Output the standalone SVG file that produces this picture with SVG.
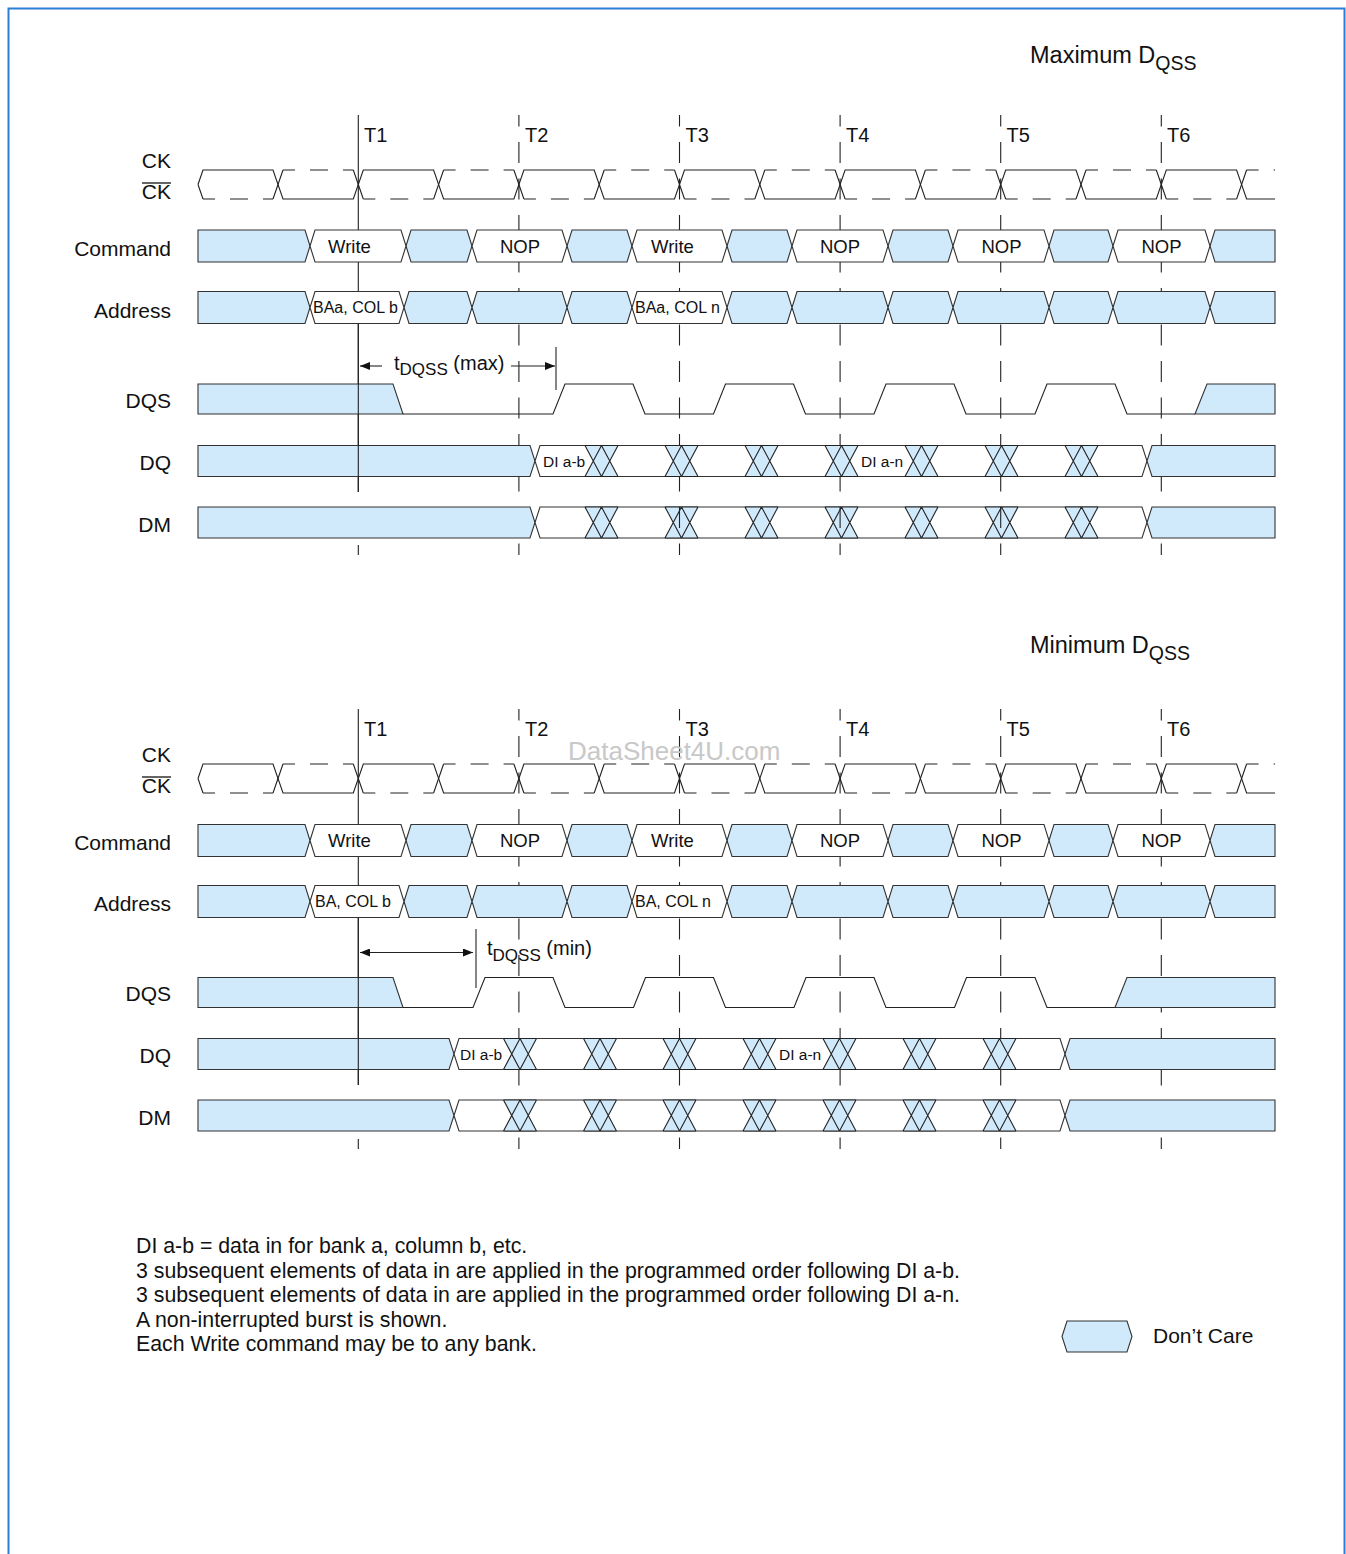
<svg xmlns="http://www.w3.org/2000/svg" width="1346" height="1554" viewBox="0 0 1346 1554">
<style>
.bl{fill:#d0e9fb;stroke:#333;stroke-width:1.1}
.wh{fill:#fff;stroke:#333;stroke-width:1.1}
.ln{fill:none;stroke:#222;stroke-width:1.1}
.dsh{fill:none;stroke:#222;stroke-width:1.1;stroke-dasharray:18 15;stroke-dashoffset:6}
.grid{fill:none;stroke:#222;stroke-width:1.1;stroke-dasharray:21 15.5;stroke-dashoffset:9.5}
.t{font-family:"Liberation Sans",Arial,sans-serif;fill:#111}
.lbl{font-size:21px;text-anchor:end}
.tl{font-size:20px}
.cmd{font-size:18.5px;text-anchor:middle}
.adr{font-size:16px}
.dat{font-size:15.5px}
.title{font-size:23.5px}
.note{font-size:21.3px}
</style>
<defs>
<g id="xx">
<path d="M-16.5 0 H16.5 L8.25 15.5 L16.5 31 H-16.5 L-8.25 15.5 Z" fill="#d0e9fb"/>
<path class="ln" d="M-16.5 0 L0 31 M-16.5 31 L0 0 M0 0 L16.5 31 M0 31 L16.5 0 M-16.5 0 H16.5 M-16.5 31 H16.5"/>
</g>
<marker id="ah" viewBox="0 0 10 8" refX="10" refY="4" markerWidth="10" markerHeight="8" orient="auto-start-reverse" markerUnits="userSpaceOnUse">
<path d="M0 0 L10 4 L0 8 Z" fill="#111"/>
</marker>
</defs>
<rect x="8.5" y="8.5" width="1336" height="1560" fill="#fff" stroke="#2b7fd3" stroke-width="2"/>

<!-- ================= TOP: Maximum DQSS ================= -->
<g id="title-max"><text class="t title" x="1030" y="63">Maximum D<tspan dy="7" font-size="19.5">QSS</tspan></text></g>

<g id="clock-edges-max">
<path class="ln" d="M358.3 115 V492 M358.3 545 V555"/>
<path class="grid" d="M518.9 115 V555 M679.5 115 V555 M840.1 115 V555 M1000.7 115 V555 M1161.3 115 V555"/>
<text class="t tl" x="364" y="142">T1</text>
<text class="t tl" x="525" y="142">T2</text>
<text class="t tl" x="685.5" y="142">T3</text>
<text class="t tl" x="846" y="142">T4</text>
<text class="t tl" x="1006.5" y="142">T5</text>
<text class="t tl" x="1167" y="142">T6</text>
</g>

<g id="labels-max">
<text class="t lbl" x="171" y="167.5">CK</text>
<text class="t lbl" x="171" y="198.5">CK</text>
<line x1="142" y1="183" x2="171" y2="183" stroke="#111" stroke-width="1.3"/>
<text class="t lbl" x="171" y="255.5">Command</text>
<text class="t lbl" x="171" y="317.5">Address</text>
<text class="t lbl" x="171" y="407.5">DQS</text>
<text class="t lbl" x="171" y="469.5">DQ</text>
<text class="t lbl" x="171" y="531.5">DM</text>
</g>

<g id="ck-max" transform="translate(0,170)">
<path class="ln" d="M198 14.5 L203 0 H273 L283 29 H353.3 L363.3 0 H433.6 L443.6 29 H513.9 L523.9 0 H594.2 L604.2 29 H674.5 L684.5 0 H754.8 L764.8 29 H835.1 L845.1 0 H915.4 L925.4 29 H995.7 L1005.7 0 H1076 L1086 29 H1156.3 L1166.3 0 H1236.6 L1246.6 29 H1275"/>
<path class="ln" d="M198 14.5 L203 29 M273 29 L283 0 M353.3 0 L363.3 29 M433.6 29 L443.6 0 M513.9 0 L523.9 29 M594.2 29 L604.2 0 M674.5 0 L684.5 29 M754.8 29 L764.8 0 M835.1 0 L845.1 29 M915.4 29 L925.4 0 M995.7 0 L1005.7 29 M1076 29 L1086 0 M1156.3 0 L1166.3 29 M1236.6 29 L1246.6 0"/>
<path class="dsh" d="M203 29 H273 M283 0 H353.3 M363.3 29 H433.6 M443.6 0 H513.9 M523.9 29 H594.2 M604.2 0 H674.5 M684.5 29 H754.8 M764.8 0 H835.1 M845.1 29 H915.4 M925.4 0 H995.7 M1005.7 29 H1076 M1086 0 H1156.3 M1166.3 29 H1236.6 M1246.6 0 H1275"/>
</g>

<g id="command-max" transform="translate(0,230)">
<path class="bl" d="M198 0 H305 L310 16 L305 32 H198 Z M406 16 L411 0 H467 L472 16 L467 32 H411 Z M567 16 L572 0 H627 L632 16 L627 32 H572 Z M727 16 L732 0 H787 L792 16 L787 32 H732 Z M888 16 L893 0 H948 L953 16 L948 32 H893 Z M1049 16 L1054 0 H1108 L1113 16 L1108 32 H1054 Z M1210 16 L1215 0 H1275 V32 H1215 Z"/>
<path class="wh" d="M310 16 L315 0 H401 L406 16 L401 32 H315 Z M472 16 L477 0 H562 L567 16 L562 32 H477 Z M632 16 L637 0 H722 L727 16 L722 32 H637 Z M792 16 L797 0 H883 L888 16 L883 32 H797 Z M953 16 L958 0 H1044 L1049 16 L1044 32 H958 Z M1113 16 L1118 0 H1205 L1210 16 L1205 32 H1118 Z"/>
<text class="t cmd" x="349.5" y="22.5">Write</text>
<text class="t cmd" x="520" y="22.5">NOP</text>
<text class="t cmd" x="672.5" y="22.5">Write</text>
<text class="t cmd" x="840" y="22.5">NOP</text>
<text class="t cmd" x="1001.5" y="22.5">NOP</text>
<text class="t cmd" x="1161.5" y="22.5">NOP</text>
</g>

<g id="address-max" transform="translate(0,291.5)">
<path class="bl" d="M198 0 H305 L310 16 L305 32 H198 Z M404 16 L409 0 H467 L472 16 L467 32 H409 Z M472 16 L477 0 H562 L567 16 L562 32 H477 Z M567 16 L572 0 H627 L632 16 L627 32 H572 Z M727 16 L732 0 H787 L792 16 L787 32 H732 Z M792 16 L797 0 H883 L888 16 L883 32 H797 Z M888 16 L893 0 H948 L953 16 L948 32 H893 Z M953 16 L958 0 H1044 L1049 16 L1044 32 H958 Z M1049 16 L1054 0 H1108 L1113 16 L1108 32 H1054 Z M1113 16 L1118 0 H1205 L1210 16 L1205 32 H1118 Z M1210 16 L1215 0 H1275 V32 H1215 Z"/>
<path class="wh" d="M310 16 L315 0 H399 L404 16 L399 32 H315 Z M632 16 L637 0 H722 L727 16 L722 32 H637 Z"/>
<text class="t adr" x="313" y="21.8">BAa, COL b</text>
<text class="t adr" x="635" y="21.8">BAa, COL n</text>
</g>

<g id="dqs-max" transform="translate(0,384)">
<path class="bl" d="M198 0 H393 L403 30 H198 Z"/>
<path class="ln" d="M403 30 H553 L565 0 H633 L645 30 H713.5 L725.5 0 H793.5 L805.5 30 H874 L886 0 H954 L966 30 H1035 L1047 0 H1115 L1127 30 H1195"/>
<path class="bl" d="M1195 30 L1207 0 H1275 V30 Z"/>
</g>

<g id="dq-max" transform="translate(0,445.5)">
<path class="bl" d="M198 0 H530 L535 15.5 L530 31 H198 Z"/>
<path class="wh" d="M535 15.5 L540 0 H1142 L1147 15.5 L1142 31 H540 Z"/>
<path class="bl" d="M1147 15.5 L1152 0 H1275 V31 H1152 Z"/>
<use href="#xx" x="601.5"/><use href="#xx" x="681.5"/><use href="#xx" x="761.5"/><use href="#xx" x="841.5"/><use href="#xx" x="921.5"/><use href="#xx" x="1001.5"/><use href="#xx" x="1081.5"/>
<text class="t dat" x="543" y="21.3">DI a-b</text>
<text class="t dat" x="861" y="21.3">DI a-n</text>
</g>

<g id="dm-max" transform="translate(0,507)">
<path class="bl" d="M198 0 H530 L535 15.5 L530 31 H198 Z"/>
<path class="wh" d="M535 15.5 L540 0 H1142 L1147 15.5 L1142 31 H540 Z"/>
<path class="bl" d="M1147 15.5 L1152 0 H1275 V31 H1152 Z"/>
<use href="#xx" x="601.5"/><use href="#xx" x="681.5"/><use href="#xx" x="761.5"/><use href="#xx" x="841.5"/><use href="#xx" x="921.5"/><use href="#xx" x="1001.5"/><use href="#xx" x="1081.5"/>
<path class="ln" d="M679.5 0 V21 M840.1 0 V21 M1000.7 0 V21"/>
</g>

<g id="connectors-max">
<path class="ln" d="M358.3 323.5 V492"/>
<path class="ln" d="M382 366 H360" marker-end="url(#ah)"/>
<path class="ln" d="M511 366 H555" marker-end="url(#ah)"/>
<path class="ln" d="M556 347 V390"/>
<text class="t tl" x="394" y="370">t<tspan dy="4.5" font-size="17">DQSS</tspan><tspan dy="-4.5"> (max)</tspan></text>
</g>

<!-- ================= BOTTOM: Minimum DQSS ================= -->
<g id="title-min"><text class="t title" x="1030" y="653">Minimum D<tspan dy="7" font-size="19.5">QSS</tspan></text></g>

<g id="clock-edges-min">
<path class="ln" d="M358.3 709 V1085 M358.3 1139 V1149"/>
<path class="grid" d="M518.9 709 V1149 M679.5 709 V1149 M840.1 709 V1149 M1000.7 709 V1149 M1161.3 709 V1149"/>
<text class="t tl" x="364" y="736">T1</text>
<text class="t tl" x="525" y="736">T2</text>
<text class="t tl" x="685.5" y="736">T3</text>
<text class="t tl" x="846" y="736">T4</text>
<text class="t tl" x="1006.5" y="736">T5</text>
<text class="t tl" x="1167" y="736">T6</text>
</g>

<text x="568" y="760" font-family="'Liberation Sans',Arial,sans-serif" font-size="26" fill="#c8c8c8">DataSheet4U.com</text>

<g id="labels-min">
<text class="t lbl" x="171" y="761.5">CK</text>
<text class="t lbl" x="171" y="792.5">CK</text>
<line x1="142" y1="777" x2="171" y2="777" stroke="#111" stroke-width="1.3"/>
<text class="t lbl" x="171" y="849.5">Command</text>
<text class="t lbl" x="171" y="910.5">Address</text>
<text class="t lbl" x="171" y="1000.5">DQS</text>
<text class="t lbl" x="171" y="1062.5">DQ</text>
<text class="t lbl" x="171" y="1124.5">DM</text>
</g>

<g id="ck-min" transform="translate(0,764)">
<path class="ln" d="M198 14.5 L203 0 H273 L283 29 H353.3 L363.3 0 H433.6 L443.6 29 H513.9 L523.9 0 H594.2 L604.2 29 H674.5 L684.5 0 H754.8 L764.8 29 H835.1 L845.1 0 H915.4 L925.4 29 H995.7 L1005.7 0 H1076 L1086 29 H1156.3 L1166.3 0 H1236.6 L1246.6 29 H1275"/>
<path class="ln" d="M198 14.5 L203 29 M273 29 L283 0 M353.3 0 L363.3 29 M433.6 29 L443.6 0 M513.9 0 L523.9 29 M594.2 29 L604.2 0 M674.5 0 L684.5 29 M754.8 29 L764.8 0 M835.1 0 L845.1 29 M915.4 29 L925.4 0 M995.7 0 L1005.7 29 M1076 29 L1086 0 M1156.3 0 L1166.3 29 M1236.6 29 L1246.6 0"/>
<path class="dsh" d="M203 29 H273 M283 0 H353.3 M363.3 29 H433.6 M443.6 0 H513.9 M523.9 29 H594.2 M604.2 0 H674.5 M684.5 29 H754.8 M764.8 0 H835.1 M845.1 29 H915.4 M925.4 0 H995.7 M1005.7 29 H1076 M1086 0 H1156.3 M1166.3 29 H1236.6 M1246.6 0 H1275"/>
</g>

<g id="command-min" transform="translate(0,824.5)">
<path class="bl" d="M198 0 H305 L310 16 L305 32 H198 Z M406 16 L411 0 H467 L472 16 L467 32 H411 Z M567 16 L572 0 H627 L632 16 L627 32 H572 Z M727 16 L732 0 H787 L792 16 L787 32 H732 Z M888 16 L893 0 H948 L953 16 L948 32 H893 Z M1049 16 L1054 0 H1108 L1113 16 L1108 32 H1054 Z M1210 16 L1215 0 H1275 V32 H1215 Z"/>
<path class="wh" d="M310 16 L315 0 H401 L406 16 L401 32 H315 Z M472 16 L477 0 H562 L567 16 L562 32 H477 Z M632 16 L637 0 H722 L727 16 L722 32 H637 Z M792 16 L797 0 H883 L888 16 L883 32 H797 Z M953 16 L958 0 H1044 L1049 16 L1044 32 H958 Z M1113 16 L1118 0 H1205 L1210 16 L1205 32 H1118 Z"/>
<text class="t cmd" x="349.5" y="22.5">Write</text>
<text class="t cmd" x="520" y="22.5">NOP</text>
<text class="t cmd" x="672.5" y="22.5">Write</text>
<text class="t cmd" x="840" y="22.5">NOP</text>
<text class="t cmd" x="1001.5" y="22.5">NOP</text>
<text class="t cmd" x="1161.5" y="22.5">NOP</text>
</g>

<g id="address-min" transform="translate(0,885.5)">
<path class="bl" d="M198 0 H305 L310 16 L305 32 H198 Z M404 16 L409 0 H467 L472 16 L467 32 H409 Z M472 16 L477 0 H562 L567 16 L562 32 H477 Z M567 16 L572 0 H627 L632 16 L627 32 H572 Z M727 16 L732 0 H787 L792 16 L787 32 H732 Z M792 16 L797 0 H883 L888 16 L883 32 H797 Z M888 16 L893 0 H948 L953 16 L948 32 H893 Z M953 16 L958 0 H1044 L1049 16 L1044 32 H958 Z M1049 16 L1054 0 H1108 L1113 16 L1108 32 H1054 Z M1113 16 L1118 0 H1205 L1210 16 L1205 32 H1118 Z M1210 16 L1215 0 H1275 V32 H1215 Z"/>
<path class="wh" d="M310 16 L315 0 H399 L404 16 L399 32 H315 Z M632 16 L637 0 H722 L727 16 L722 32 H637 Z"/>
<text class="t adr" x="315" y="21.8">BA, COL b</text>
<text class="t adr" x="635" y="21.8">BA, COL n</text>
</g>

<g id="dqs-min" transform="translate(0,977.5)">
<path class="bl" d="M198 0 H393 L403 30 H198 Z"/>
<path class="ln" d="M403 30 H473 L485 0 H553 L565 30 H633.5 L645.5 0 H713.5 L725.5 30 H794 L806 0 H874 L886 30 H954.5 L966.5 0 H1035 L1047 30 H1115"/>
<path class="bl" d="M1115 30 L1127 0 H1275 V30 Z"/>
</g>

<g id="dq-min" transform="translate(0,1038.5)">
<path class="bl" d="M198 0 H449 L454 15.5 L449 31 H198 Z"/>
<path class="wh" d="M454 15.5 L459 0 H1060 L1065 15.5 L1060 31 H459 Z"/>
<path class="bl" d="M1065 15.5 L1070 0 H1275 V31 H1070 Z"/>
<use href="#xx" x="520"/><use href="#xx" x="600"/><use href="#xx" x="679.5"/><use href="#xx" x="759.5"/><use href="#xx" x="839.5"/><use href="#xx" x="919.5"/><use href="#xx" x="999.5"/>
<text class="t dat" x="460" y="21.3">DI a-b</text>
<text class="t dat" x="779" y="21.3">DI a-n</text>
</g>

<g id="dm-min" transform="translate(0,1100)">
<path class="bl" d="M198 0 H449 L454 15.5 L449 31 H198 Z"/>
<path class="wh" d="M454 15.5 L459 0 H1060 L1065 15.5 L1060 31 H459 Z"/>
<path class="bl" d="M1065 15.5 L1070 0 H1275 V31 H1070 Z"/>
<use href="#xx" x="520"/><use href="#xx" x="600"/><use href="#xx" x="679.5"/><use href="#xx" x="759.5"/><use href="#xx" x="839.5"/><use href="#xx" x="919.5"/><use href="#xx" x="999.5"/>
</g>

<g id="connectors-min">
<path class="ln" d="M358.3 917.5 V1085"/>
<path class="ln" d="M360 952.5 H473" marker-start="url(#ah)" marker-end="url(#ah)"/>
<path class="ln" d="M476 929 V988"/>
<text class="t tl" x="487" y="955">t<tspan dy="5.5" font-size="17">DQSS</tspan><tspan dy="-5.5"> (min)</tspan></text>
</g>

<!-- ================= NOTES & LEGEND ================= -->
<g id="notes">
<text class="t note" x="136" y="1253">DI a-b = data in for bank a, column b, etc.</text>
<text class="t note" x="136" y="1277.5">3 subsequent elements of data in are applied in the programmed order following DI a-b.</text>
<text class="t note" x="136" y="1302">3 subsequent elements of data in are applied in the programmed order following DI a-n.</text>
<text class="t note" x="136" y="1326.5">A non-interrupted burst is shown.</text>
<text class="t note" x="136" y="1351">Each Write command may be to any bank.</text>
</g>

<g id="legend">
<path class="bl" d="M1062 1336.5 L1067 1321 H1127 L1132 1336.5 L1127 1352 H1067 Z"/>
<text class="t note" x="1153" y="1343" style="font-size:21px">Don’t Care</text>
</g>
</svg>
